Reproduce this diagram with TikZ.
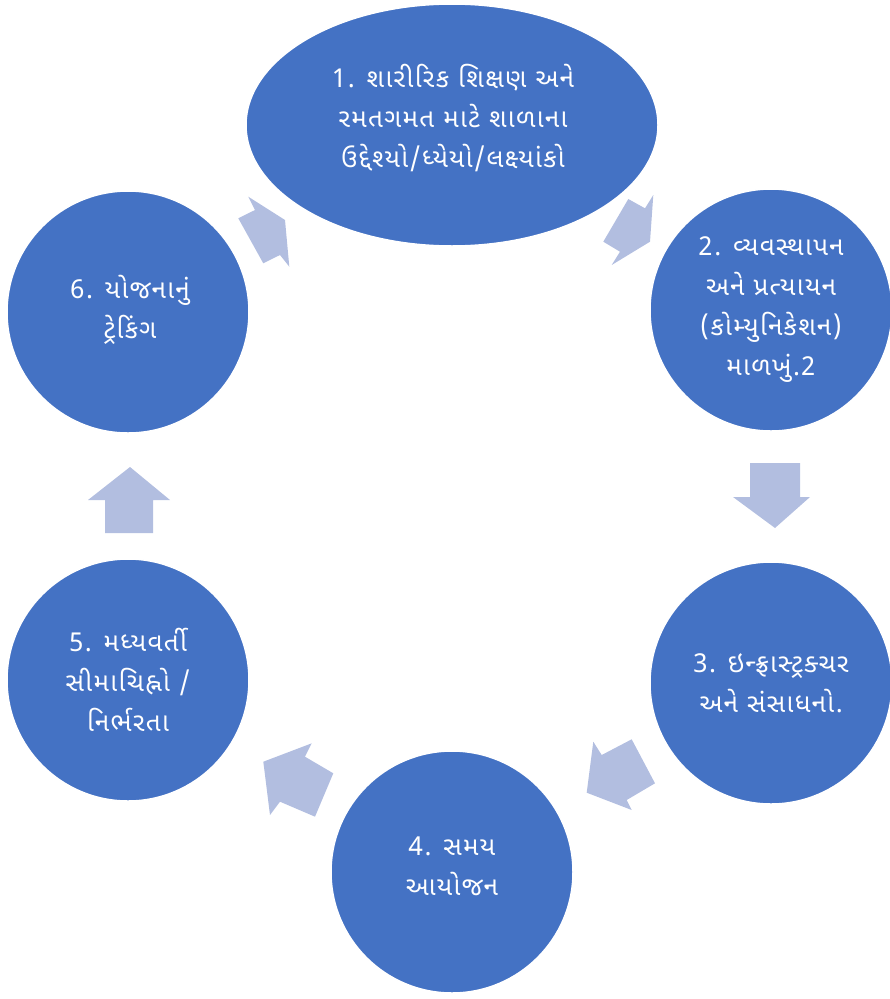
\documentclass[tikz,border=0pt]{standalone}
\usepackage{fontspec}
\newfontfamily\gujfont[Script=Gujarati,LetterSpace=5]{Noto Sans Gujarati UI}
\usetikzlibrary{shapes.geometric}
\definecolor{bubblue}{RGB}{68,114,196}
\definecolor{arrblue}{RGB}{178,190,224}
\tikzset{
  bubtxt/.style={text=white, align=center, inner sep=0pt, font=\gujfont\fontsize{26}{40}\selectfont},
  bub/.style={circle, fill=bubblue, draw=white, line width=1.5pt, minimum size=242pt, inner sep=0pt, bubtxt},
  bubell/.style={ellipse, fill=bubblue, draw=white, line width=1.5pt, minimum width=412pt, minimum height=242pt, inner sep=0pt},
  arr/.style={fill=arrblue, draw=none}
}
\begin{document}
\begin{tikzpicture}[x=1pt,y=-1pt]
\useasboundingbox (0,0) rectangle (890,999);
\node[bubell] (n1) at (452,125) {};
\node[bubtxt] (t1) at (453,118) {1. શારીરિક શિક્ષણ અને\\રમતગમત માટે શાળાના\\ઉદ્દેશ્યો/ધ્યેયો/લક્ષ્યાંકો};
\node[bub] (n2) at (771,310) {2. વ્યવસ્થાપન\\અને પ્રત્યાયન\\(કોમ્યુનિકેશન)\\માળખું.2};
\node[bub] (n3) at (771,683) {3. ઇન્ફ્રાસ્ટ્રક્ચર\\અને સંસાધનો.};
\node[bub] (n4) at (452,872) {};
\node[bubtxt] (t4) at (452,866) {4. સમય\\આયોજન};
\node[bub] (n5) at (128,680) {5. મધ્યવર્તી\\સીમાચિહ્નો /\\નિર્ભરતા};
\node[bub] (n6) at (128,312) {};
\node[bubtxt] (t6) at (130,310) {6. યોજનાનું\\ટ્રેકિંગ};
% arrow 1 -> 2
\fill[arr] (650,241.7) -- (653.3,195) -- (645,208.3) -- (628.3,199) -- (603.3,241.7) -- (620,251.7) -- (611.7,265) -- cycle;
% arrow 2 -> 3
\fill[arr] (775,528) -- (810,497) -- (800,497) -- (800,463) -- (750,463) -- (750,497) -- (733,497) -- cycle;
% arrow 3 -> 4
\fill[arr] (586.7,792.7) -- (593.3,741.7) -- (601.7,755) -- (631.7,739.3) -- (655,783.3) -- (626.7,800) -- (631.7,810) -- cycle;
% arrow 4 -> 5
\fill[arr] (263.3,761.7) -- (311.7,743.3) -- (305,756.7) -- (333.3,773.3) -- (315,816.7) -- (280,801.7) -- (270,815) -- cycle;
% arrow 5 -> 6
\fill[arr] (130,467) -- (170,500) -- (153,500) -- (153,533) -- (105,533) -- (105,500) -- (88,500) -- cycle;
% arrow 6 -> 1
\fill[arr] (285,220) -- (289.3,266.7) -- (280,255) -- (263.3,263.3) -- (238.3,218.3) -- (255,210) -- (248.3,196.7) -- cycle;
\end{tikzpicture}
\end{document}
